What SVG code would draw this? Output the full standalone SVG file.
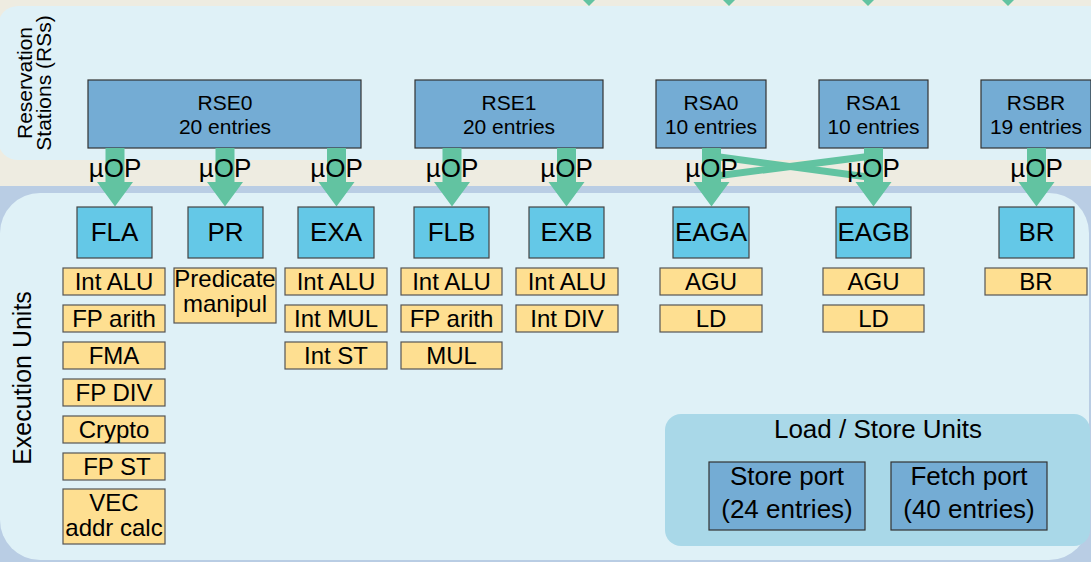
<svg xmlns="http://www.w3.org/2000/svg" width="1091" height="562" viewBox="0 0 1091 562">
<style>
text{font-family:"Liberation Sans",Arial,sans-serif;fill:#000;text-anchor:middle}
.rs{fill:#74acd4;stroke:#333;stroke-width:1.2}
.eu{fill:#64c8e7;stroke:#444;stroke-width:1.2}
.fu{fill:#fedf91;stroke:#555;stroke-width:1.2}
.arr{fill:#62c3a1}
.t21{font-size:21px}
.t24{font-size:24px}
.t26{font-size:26px}
</style>
<rect x="0" y="0" width="1091" height="562" fill="#eeece1"/>
<rect x="0" y="186" width="1091" height="376" fill="#b9cde4"/>
<rect id="rs-panel" x="-2" y="6" width="1120" height="154" rx="20" fill="#dff1f7"/>
<rect id="eu-panel" x="0" y="193" width="1089" height="367" rx="40" fill="#dff1f7"/>
<g id="labels">
<text class="t21" transform="translate(32,83) rotate(-90)">Reservation</text>
<text class="t21" transform="translate(51,83) rotate(-90)">Stations (RSs)</text>
<text style="font-size:25px" transform="translate(31,378) rotate(-90)">Execution Units</text>
</g>
<g id="RSE0"><rect class="rs" x="88" y="80" width="273" height="68"/><text class="t21" x="225" y="110">RSE0</text><text class="t21" x="225" y="134">20 entries</text></g>
<g id="RSE1"><rect class="rs" x="415" y="80" width="188" height="68"/><text class="t21" x="509" y="110">RSE1</text><text class="t21" x="509" y="134">20 entries</text></g>
<g id="RSA0"><rect class="rs" x="656" y="80" width="110" height="68"/><text class="t21" x="711" y="110">RSA0</text><text class="t21" x="711" y="134">10 entries</text></g>
<g id="RSA1"><rect class="rs" x="819" y="80" width="109" height="68"/><text class="t21" x="873.5" y="110">RSA1</text><text class="t21" x="873.5" y="134">10 entries</text></g>
<g id="RSBR"><rect class="rs" x="981" y="80" width="110" height="68"/><text class="t21" x="1036" y="110">RSBR</text><text class="t21" x="1036" y="134">19 entries</text></g>
<g id="connectors">
<path class="arr" d="M583,0 L595,0 L589,6 Z"/>
<path class="arr" d="M723,0 L735,0 L729,6 Z"/>
<path class="arr" d="M862,0 L874,0 L868,6 Z"/>
<path class="arr" d="M1002,0 L1014,0 L1008,6 Z"/>
<path class="arr" d="M105.5,148 h19 v34 h8.5 L115,206.5 L97,182 h8.5 Z"/>
<path class="arr" d="M215.5,148 h19 v34 h8.5 L225,206.5 L207,182 h8.5 Z"/>
<path class="arr" d="M327,148 h19 v34 h8.5 L336.5,206.5 L318.5,182 h8.5 Z"/>
<path class="arr" d="M442.5,148 h19 v34 h8.5 L452,206.5 L434,182 h8.5 Z"/>
<path class="arr" d="M557,148 h19 v34 h8.5 L566.5,206.5 L548.5,182 h8.5 Z"/>
<path class="arr" d="M702,148 h19 v34 h8.5 L711.5,206.5 L693.5,182 h8.5 Z"/>
<path class="arr" d="M864,148 h19 v34 h8.5 L873.5,206.5 L855.5,182 h8.5 Z"/>
<path class="arr" d="M1027,148 h19 v34 h8.5 L1036.5,206.5 L1018.5,182 h8.5 Z"/>
<line x1="716" y1="156.5" x2="868" y2="177" stroke="#62c3a1" stroke-width="7"/>
<line x1="716" y1="176" x2="868" y2="156.5" stroke="#62c3a1" stroke-width="7"/>
</g>
<g id="uop-labels" class="t26">
<text x="115" y="177">µOP</text>
<text x="225" y="177">µOP</text>
<text x="336.5" y="177">µOP</text>
<text x="452" y="177">µOP</text>
<text x="566.5" y="177">µOP</text>
<text x="711.5" y="177">µOP</text>
<text x="873.5" y="177">µOP</text>
<text x="1036.5" y="177">µOP</text>
</g>
<g id="FLA"><rect class="eu" x="77" y="207" width="75" height="51"/><text class="t26" x="114.5" y="241">FLA</text>
<rect class="fu" x="63" y="268" width="102" height="27"/><text class="t24" x="114" y="290">Int ALU</text>
<rect class="fu" x="63" y="305" width="102" height="27"/><text class="t24" x="114" y="327">FP arith</text>
<rect class="fu" x="63" y="342" width="102" height="27"/><text class="t24" x="114" y="364">FMA</text>
<rect class="fu" x="63" y="379" width="102" height="27"/><text class="t24" x="114" y="401">FP DIV</text>
<rect class="fu" x="63" y="416" width="102" height="27"/><text class="t24" x="114" y="438">Crypto</text>
<rect class="fu" x="63" y="453" width="102" height="27"/><text class="t24" x="117" y="475">FP ST</text>
<rect class="fu" x="63" y="489" width="102" height="55"/><text class="t24" x="114" y="511">VEC</text><text class="t24" x="114" y="536">addr calc</text>
</g>
<g id="PR"><rect class="eu" x="188" y="207" width="75" height="51"/><text class="t26" x="225.5" y="241">PR</text>
<rect class="fu" x="174" y="268" width="102" height="55"/><text class="t24" x="225" y="287">Predicate</text><text class="t24" x="225" y="312">manipul</text>
</g>
<g id="EXA"><rect class="eu" x="298" y="207" width="76" height="51"/><text class="t26" x="336" y="241">EXA</text>
<rect class="fu" x="285" y="268" width="102" height="27"/><text class="t24" x="336" y="290">Int ALU</text>
<rect class="fu" x="285" y="305" width="102" height="27"/><text class="t24" x="336" y="327">Int MUL</text>
<rect class="fu" x="285" y="342" width="102" height="27"/><text class="t24" x="336" y="364">Int ST</text>
</g>
<g id="FLB"><rect class="eu" x="414" y="207" width="75" height="51"/><text class="t26" x="451.5" y="241">FLB</text>
<rect class="fu" x="401" y="268" width="101" height="27"/><text class="t24" x="451.5" y="290">Int ALU</text>
<rect class="fu" x="401" y="305" width="101" height="27"/><text class="t24" x="451.5" y="327">FP arith</text>
<rect class="fu" x="401" y="342" width="101" height="27"/><text class="t24" x="451.5" y="364">MUL</text>
</g>
<g id="EXB"><rect class="eu" x="529" y="207" width="75" height="51"/><text class="t26" x="566.5" y="241">EXB</text>
<rect class="fu" x="516" y="268" width="102" height="27"/><text class="t24" x="567" y="290">Int ALU</text>
<rect class="fu" x="516" y="305" width="102" height="27"/><text class="t24" x="567" y="327">Int DIV</text>
</g>
<g id="EAGA"><rect class="eu" x="673" y="207" width="76" height="51"/><text class="t26" x="711" y="241">EAGA</text>
<rect class="fu" x="660" y="268" width="102" height="27"/><text class="t24" x="711" y="290">AGU</text>
<rect class="fu" x="660" y="305" width="102" height="27"/><text class="t24" x="711" y="327">LD</text>
</g>
<g id="EAGB"><rect class="eu" x="836" y="207" width="75" height="51"/><text class="t26" x="873.5" y="241">EAGB</text>
<rect class="fu" x="823" y="268" width="101" height="27"/><text class="t24" x="873.5" y="290">AGU</text>
<rect class="fu" x="823" y="305" width="101" height="27"/><text class="t24" x="873.5" y="327">LD</text>
</g>
<g id="BR"><rect class="eu" x="999" y="207" width="75" height="51"/><text class="t26" x="1036.5" y="241">BR</text>
<rect class="fu" x="985" y="268" width="102" height="27"/><text class="t24" x="1036" y="290">BR</text>
</g>
<g id="LSU"><rect x="665" y="414" width="425" height="132" rx="16" fill="#a9d8e8"/><text class="t26" x="878" y="438">Load / Store Units</text></g>
<g id="StorePort"><rect class="rs" x="709" y="462" width="156" height="68"/><text class="t26" x="787" y="485">Store port</text><text class="t26" x="787" y="518">(24 entries)</text></g>
<g id="FetchPort"><rect class="rs" x="891" y="462" width="156" height="68"/><text class="t26" x="969" y="485">Fetch port</text><text class="t26" x="969" y="518">(40 entries)</text></g>
</svg>
